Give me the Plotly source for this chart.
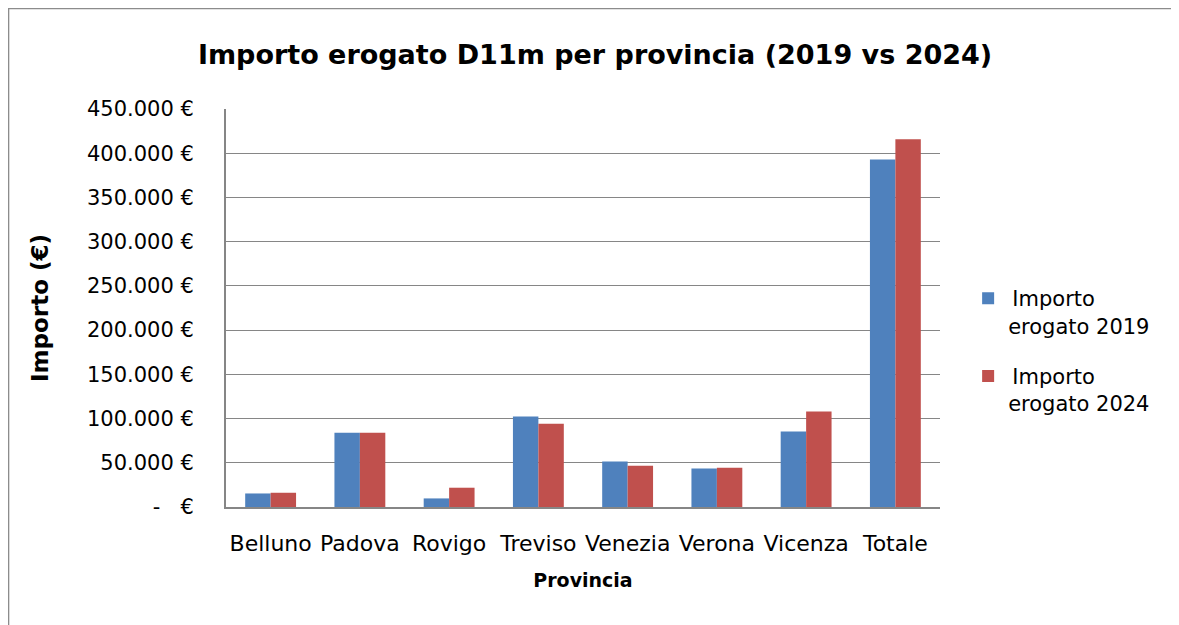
import plotly.graph_objects as go

province = ['Belluno', 'Padova', 'Rovigo', 'Treviso', 'Venezia', 'Verona', 'Vicenza', 'Totale']
importo_2019 = [15300, 83900, 9700, 102300, 51500, 43600, 85300, 392800]
importo_2024 = [16100, 83900, 21800, 94000, 46600, 44400, 107900, 415700]

y_ticks = [0, 50000, 100000, 150000, 200000, 250000, 300000, 350000, 400000, 450000]
y_labels = ['-\u00a0\u00a0\u00a0€', '50.000 €', '100.000 €', '150.000 €', '200.000 €',
            '250.000 €', '300.000 €', '350.000 €', '400.000 €', '450.000 €']

font = 'DejaVu Sans, sans-serif'
grid = '#868686'

fig = go.Figure()
fig.add_trace(go.Bar(x=province, y=importo_2019, name='\u2009Importo<br>erogato 2019',
                     legendgroup='2019', marker_color='#4F81BD', marker_line_width=0))
fig.add_trace(go.Bar(x=province, y=importo_2024, name='\u2009Importo<br>erogato 2024',
                     legendgroup='2024', marker_color='#C0504D', marker_line_width=0))

# the page has an 8px body margin, so the figure is drawn 8px smaller
fig.update_layout(
    width=1171, height=617,
    paper_bgcolor='white', plot_bgcolor='white',
    margin=dict(l=218, r=239, t=101, b=118),
    font=dict(family=font, size=21, color='black'),
    title=dict(text='<b>Importo erogato D11m per provincia (2019 vs 2024)</b>',
               x=0.5013, xanchor='center', y=0.925, yanchor='middle',
               font=dict(size=27, family=font)),
    barmode='group', bargap=0.43, bargroupgap=0,
    showlegend=True,
    legend=dict(x=1.0394, xanchor='left', y=0.575, yanchor='top', valign='top',
                font=dict(size=21), traceorder='grouped', tracegroupgap=20),
    shapes=[dict(type='rect', xref='paper', yref='paper',
                 x0=-0.3046, x1=1.4, y0=-0.35, y1=1.2525,
                 line=dict(color='#8c8c8c', width=1.6), layer='below')],
)
fig.update_xaxes(showline=True, linecolor=grid, linewidth=2, showgrid=False,
                 ticks='', ticklabelstandoff=16, tickfont=dict(size=22),
                 title=dict(text='<b>Provincia</b>', font=dict(size=19), standoff=18))
fig.update_yaxes(range=[0, 450000], tickvals=y_ticks, ticktext=y_labels,
                 showline=True, linecolor=grid, linewidth=2,
                 showgrid=True, gridcolor=grid, gridwidth=1.3, zeroline=False,
                 ticks='', ticklabelstandoff=26, tickfont=dict(size=21),
                 title=dict(text='<b>Importo (€)</b>', font=dict(size=23), standoff=32))

fig.write_html("out.html")
